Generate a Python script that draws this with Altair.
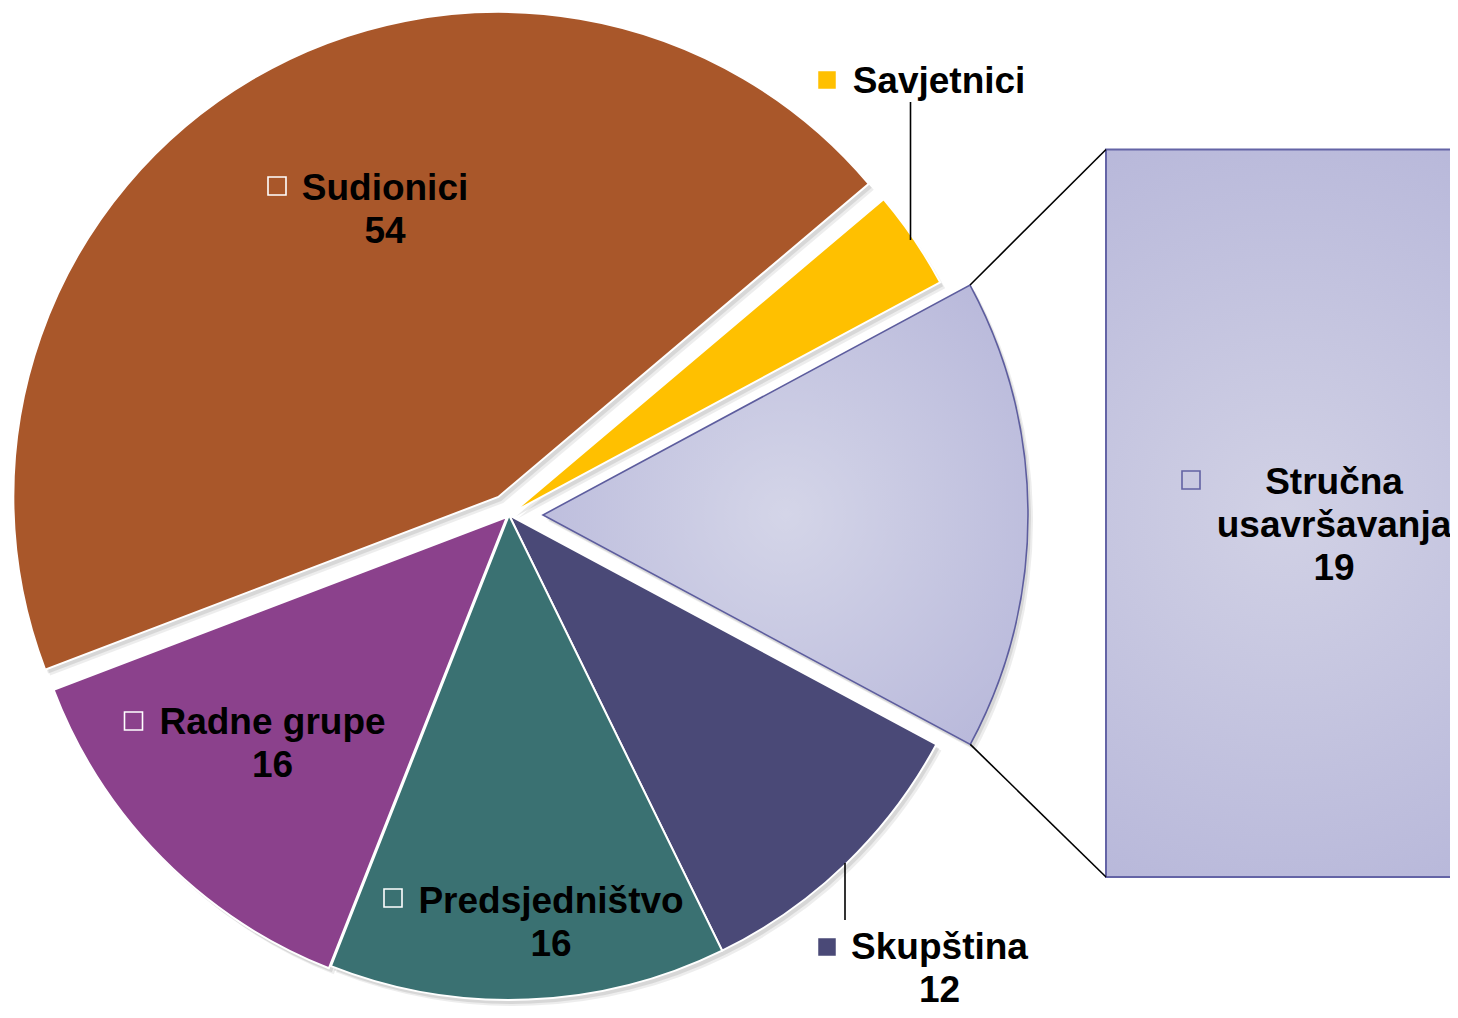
import math
import altair as alt
import pandas as pd

# ---------------- data ----------------
categories = ["Savjetnici", "Stručna usavršavanja", "Skupština", "Predsjedništvo", "Radne grupe", "Sudionici"]
values = [4, 19, 12, 16, 16, 54]
show_value = [False, True, True, True, True, True]

# ---------------- style / layout ----------------
W, H = 1442, 1002
OFF = 8  # page margin
CX, CY = 509 - OFF, 515 - OFF
R = 485
START_DEG = 49.8
FONT = "Liberation Sans"

fills = {
    "Savjetnici": "#FFC000",
    "Skupština": "#4A4977",
    "Predsjedništvo": "#3A7172",
    "Radne grupe": "#8B418C",
    "Sudionici": "#A9572A",
}
explode = {"Savjetnici": 5, "Stručna usavršavanja": 34, "Skupština": 0,
           "Predsjedništvo": 0, "Radne grupe": 3, "Sudionici": 21}

lav_grad = alt.Gradient(
    gradient="radial",
    stops=[alt.GradientStop(color="#D4D5E8", offset=0),
           alt.GradientStop(color="#B3B3D8", offset=1)],
    x1=0.5, y1=0.5, x2=0.5, y2=0.5, r1=0, r2=0.75,
)
box_grad = alt.Gradient(
    gradient="radial",
    stops=[alt.GradientStop(color="#D1D1E5", offset=0),
           alt.GradientStop(color="#B1B1D7", offset=1)],
    x1=0.5, y1=0.5, x2=0.5, y2=0.5, r1=0, r2=0.72,
)
LAV_STROKE = "#5D5D9E"

total = sum(values)
start_rad = math.radians(START_DEG)
theta_scale = alt.Scale(domain=[0, total], range=[start_rad, start_rad + 2 * math.pi])

df = pd.DataFrame({"category": categories, "value": values, "order": list(range(len(categories)))})

base = alt.Chart(df).transform_window(
    cum="sum(value)", sort=[alt.SortField("order")], frame=[None, 0]
).transform_calculate(start="datum.cum - datum.value")

# slice centres (explosion offsets along mid angle)
centers = {}
angles = {}
acc = 0
for c, v in zip(categories, values):
    a0 = START_DEG + acc / total * 360
    a1 = START_DEG + (acc + v) / total * 360
    mid = math.radians((a0 + a1) / 2)
    e = explode[c]
    centers[c] = (CX + e * math.sin(mid), CY - e * math.cos(mid))
    angles[c] = (a0, a1)
    acc += v


def arc_layer(cat, fill, stroke=None, sw=0, opacity=1.0, dx=0, dy=0):
    x0, y0 = centers[cat]
    kw = dict(radius=R, fill=fill, opacity=opacity)
    if stroke:
        kw.update(stroke=stroke, strokeWidth=sw)
    return base.transform_filter(alt.datum.category == cat).mark_arc(**kw).encode(
        theta=alt.Theta("start:Q", scale=theta_scale),
        theta2=alt.Theta2("cum:Q"),
        x=alt.value(x0 + dx),
        y=alt.value(y0 + dy),
    )


layers = []
# soft shadow
for c in categories:
    layers.append(arc_layer(c, "#000000", opacity=0.07, dx=5, dy=6))
    layers.append(arc_layer(c, "#000000", opacity=0.09, dx=3, dy=4))

for c in categories:
    if c == "Stručna usavršavanja":
        layers.append(arc_layer(c, lav_grad, stroke=LAV_STROKE, sw=1.6))
    else:
        layers.append(arc_layer(c, fills[c], stroke="white", sw=2))

one = alt.Chart(pd.DataFrame({"k": [0]}))

# secondary box (bar of pie) for Stručna usavršavanja
BX0, BY0, BY1 = 1106 - OFF, 149.5 - OFF, 877 - OFF
layers.append(one.mark_rect(fill=box_grad, stroke="#6464A6", strokeWidth=2).encode(
    x=alt.value(BX0), x2=alt.value(W + 14), y=alt.value(BY0), y2=alt.value(BY1)))

# connector lines from slice corners to box corners
sx, sy = centers["Stručna usavršavanja"]
a0, a1 = angles["Stručna usavršavanja"]
p0 = (sx + R * math.sin(math.radians(a0)), sy - R * math.cos(math.radians(a0)))
p1 = (sx + R * math.sin(math.radians(a1)), sy - R * math.cos(math.radians(a1)))
for (px, py), by in ((p0, BY0), (p1, BY1)):
    layers.append(one.mark_rule(color="black", strokeWidth=1.6).encode(
        x=alt.value(px), y=alt.value(py), x2=alt.value(BX0), y2=alt.value(by)))

# leader lines for outside labels
layers.append(one.mark_rule(color="black", strokeWidth=1.6).encode(
    x=alt.value(910.5 - OFF), y=alt.value(102 - OFF), y2=alt.value(240 - OFF)))
layers.append(one.mark_rule(color="black", strokeWidth=1.6).encode(
    x=alt.value(845 - OFF), y=alt.value(863 - OFF), y2=alt.value(920 - OFF)))

# labels: (text centre x, first baseline y, square centre x, square centre y) in page px
label_pos = {
    "Sudionici": (385, 200, 277, 186),
    "Savjetnici": (939, 93, 827, 80),
    "Stručna usavršavanja": (1334, 494, 1191, 480),
    "Skupština": (939.5, 959, 827, 947),
    "Predsjedništvo": (551, 913, 393, 898),
    "Radne grupe": (272.5, 734, 133.5, 721),
}
square_style = {
    "Sudionici": dict(filled=False, stroke="white", strokeWidth=1.6),
    "Radne grupe": dict(filled=False, stroke="white", strokeWidth=1.6),
    "Predsjedništvo": dict(filled=False, stroke="white", strokeWidth=1.6),
    "Savjetnici": dict(filled=True, fill="#FFC000", stroke="white", strokeWidth=0.5),
    "Skupština": dict(filled=True, fill="#4A4977", stroke="white", strokeWidth=0.5),
    "Stručna usavršavanja": dict(filled=True, fill="#C9C9E1", stroke="#6262A3", strokeWidth=1.6),
}

label_texts = []
for c, v, s in zip(categories, values, show_value):
    name = c.replace(" ", "\n") if c == "Stručna usavršavanja" else c
    label_texts.append(name + ("\n" + str(v) if s else ""))
ldf = pd.DataFrame({"category": categories, "label": label_texts})

for c in categories:
    tx, ty, qx, qy = label_pos[c]
    layers.append(alt.Chart(ldf).transform_filter(alt.datum.category == c).mark_text(
        font=FONT, fontWeight="bold", fontSize=37, lineHeight=43, align="center",
        baseline="alphabetic", lineBreak="\n", color="black",
    ).encode(text="label:N", x=alt.value(tx - OFF), y=alt.value(ty - OFF)))
    layers.append(alt.Chart(ldf).transform_filter(alt.datum.category == c).mark_square(
        size=324, opacity=1, **square_style[c]
    ).encode(x=alt.value(qx - OFF), y=alt.value(qy - OFF)))

chart = alt.layer(*layers).properties(
    width=W, height=H, padding=0, autosize=alt.AutoSizeParams(type="none")
).configure_view(stroke=None)

chart.save("out.html", embed_options={"renderer": "svg", "actions": False})
